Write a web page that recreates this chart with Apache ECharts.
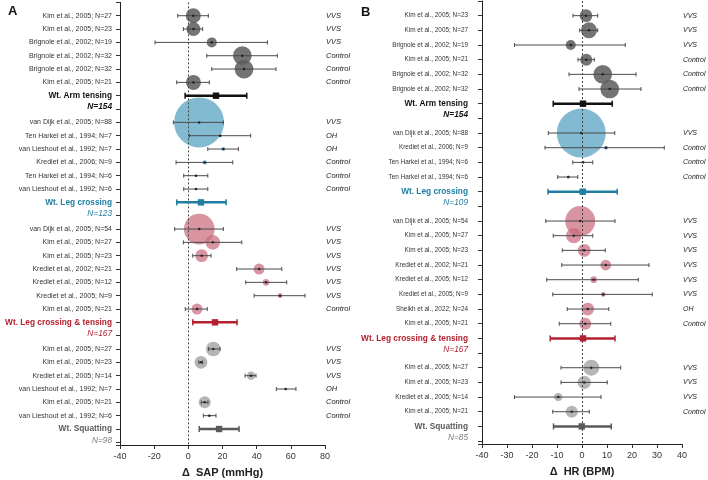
<!DOCTYPE html>
<html>
<head>
<meta charset="utf-8">
<script src="https://cdn.jsdelivr.net/npm/echarts@6/dist/echarts.min.js"></script>
<style>
  html, body { margin: 0; padding: 0; background: #fff; }
  #chart { width: 708px; height: 480px; }
</style>
</head>
<body>
<div id="chart"></div>
<script>
// intervention groups (same order in both panels)
const interventions = ['Wt. Arm tensing', 'Wt. Leg crossing', 'Wt. Leg crossing & tensing', 'Wt. Squatting'];

// ---- Panel A : delta SAP (mmHg) ----
const sapStudy = [
  'Kim et al., 2005; N=27', 'Kim et al., 2005; N=23', 'Brignole et al., 2002; N=19', 'Brignole et al., 2002; N=32', 'Brignole et al., 2002; N=32', 'Kim et al., 2005; N=21',
  'van Dijk et al., 2005; N=88', 'Ten Harkel et al., 1994; N=7', 'van Lieshout et al., 1992; N=7', 'Krediet et al., 2006; N=9', 'Ten Harkel et al., 1994; N=6', 'van Lieshout et al., 1992; N=6',
  'van Dijk et al., 2005; N=54', 'Kim et al., 2005; N=27', 'Kim et al., 2005; N=23', 'Krediet et al., 2002; N=21', 'Krediet et al., 2005; N=12', 'Krediet et al., 2005; N=9', 'Kim et al., 2005; N=21',
  'Kim et al., 2005; N=27', 'Kim et al., 2005; N=23', 'Krediet et al., 2005; N=14', 'van Lieshout et al., 1992; N=7', 'Kim et al., 2005; N=21', 'van Lieshout et al., 1992; N=6'
];
const sapGroup = [0,0,0,0,0,0, 1,1,1,1,1,1, 2,2,2,2,2,2,2, 3,3,3,3,3,3];
const sapPop = ['VVS','VVS','VVS','Control','Control','Control',
  'VVS','OH','OH','Control','Control','Control',
  'VVS','VVS','VVS','VVS','VVS','VVS','Control',
  'VVS','VVS','VVS','OH','Control','Control'];
const sapMean = [2.9, 3, 13.7, 31.6, 32.6, 3,  6.3, 18.6, 20.5, 9.6, 4.5, 4.5,  6.4, 14.3, 7.8, 41.4, 45.5, 53.7, 5.1,  14.6, 7.4, 36.7, 57, 9.6, 12.3];
const sapLow = [-6.2, -2.9, -19.5, 10.8, 13.7, -6.8,  -8.8, 0.6, 11.4, -7.2, -2.7, -2.7,  -8, -2.9, 2.6, 28.3, 33.6, 38.5, -1.8,  11.9, 6.1, 33.2, 51.5, 7.6, 8.8];
const sapHigh = [11.7, 8.4, 46.3, 52.1, 51.3, 12.3,  20.5, 36.5, 29.3, 26, 11.4, 11.4,  20.5, 31.3, 13.3, 54.7, 57.6, 68.3, 11.1,  18.6, 8.4, 39.6, 63, 11.5, 16.2];
const sapWeight = [9, 7.8, 4, 14, 14, 9,  100, 0.5, 0.6, 0.8, 0.25, 0.25,  37.7, 8.6, 6.5, 4.8, 1.8, 0.9, 4.8,  8.6, 6.5, 2.8, 0.3, 5.8, 0.25];
const sapPooled = [16.2, 7.4, 15.6, 18];
const sapPooledLow = [-1.9, -6.8, 2.6, 6.4];
const sapPooledHigh = [34.2, 22.1, 28.5, 29.7];
const sapTotalN = [154, 123, 167, 98];
const sapTicks = [-40, -20, 0, 20, 40, 60, 80];

// ---- Panel B : delta HR (BPM) ----
const hrStudy = [
  'Kim et al., 2005; N=23', 'Kim et al., 2005; N=27', 'Brignole et al., 2002; N=19', 'Kim et al., 2005; N=21', 'Brignole et al., 2002; N=32', 'Brignole et al., 2002; N=32',
  'van Dijk et al., 2005; N=88', 'Krediet et al., 2006; N=9', 'Ten Harkel et al., 1994; N=6', 'Ten Harkel et al., 1994; N=6',
  'van Dijk et al., 2005; N=54', 'Kim et al., 2005; N=27', 'Kim et al., 2005; N=23', 'Krediet et al., 2002; N=21', 'Krediet et al., 2005; N=12', 'Krediet et al., 2005; N=9', 'Sheikh et al., 2022; N=24', 'Kim et al., 2005; N=21',
  'Kim et al., 2005; N=27', 'Kim et al., 2005; N=23', 'Krediet et al., 2005; N=14', 'Kim et al., 2005; N=21'
];
const hrGroup = [0,0,0,0,0,0, 1,1,1,1, 2,2,2,2,2,2,2,2, 3,3,3,3];
const hrPop = ['VVS','VVS','VVS','Control','Control','Control',
  'VVS','Control','Control','Control',
  'VVS','VVS','VVS','VVS','VVS','VVS','OH','Control',
  'VVS','VVS','VVS','Control'];
const hrMean = [1.6, 2.8, -4.5, 1.7, 8.3, 11.1,  -0.3, 9.6, 0.4, -5.5,  -0.7, -3.3, 0.9, 9.5, 4.7, 8.5, 2.3, 1.3,  3.7, 0.9, -9.5, -4.1];
const hrLow = [-3.6, -0.9, -27, -1.6, -5.2, -1.2,  -13.5, -14.8, -3.7, -9.7,  -14.5, -11.5, -7.9, -8.1, -14.1, -11.7, -5.9, -9.1,  -8.4, -8.4, -27, -11.7];
const hrHigh = [6.3, 6.3, 17.3, 4.9, 21.6, 23.6,  13.1, 32.9, 4.3, -1.7,  13.2, 4.3, 9.3, 26.8, 22.5, 28.1, 10.7, 11.5,  15.5, 10.1, 7.6, 2.9];
const hrWeight = [6.5, 10.2, 4, 5.8, 14, 14,  96, 0.64, 0.36, 0.36,  36, 9.4, 6.5, 4.6, 1.8, 0.9, 6.5, 5.8,  10.2, 7.1, 2.6, 5.8];
const hrPooled = [0.4, 0.3, 0.4, -0.1];
const hrPooledLow = [-11.5, -13.6, -12.7, -11.4];
const hrPooledHigh = [12.1, 14.1, 13.2, 11.7];
const hrTotalN = [154, 109, 167, 85];
const hrTicks = [-40, -30, -20, -10, 0, 10, 20, 30, 40];

// colours
const sumColor = ['#111111', '#1f7ea1', '#b3202f', '#5a5a5a'];
const nColor = ['#111111', '#1f7ea1', '#b3202f', '#808080'];
const bubbleColor = ['#5c5c5c', '#74b2cc', '#c9677b', '#a8a8a8'];
const bubbleOpacity = [0.85, 0.9, 0.7, 0.85];
const FONT = 'Liberation Sans, Arial, sans-serif';

// lay out rows: studies, then pooled row, then a blank row for the N label
function buildRows(group) {
  const rowOf = [], sumRow = [];
  let r = 0;
  for (let g = 0; g < interventions.length; g++) {
    group.forEach((gg, i) => { if (gg === g) rowOf[i] = r++; });
    sumRow[g] = r;
    r += 2;
  }
  return { rowOf, sumRow, total: r };
}

function errorBar(params, api) {
  const y = api.value(2);
  const a = api.coord([api.value(0), y]);
  const b = api.coord([api.value(1), y]);
  const st = { stroke: '#4a4a4a', lineWidth: 1 };
  return { type: 'group', children: [
    { type: 'line', shape: { x1: a[0], y1: a[1], x2: b[0], y2: b[1] }, style: st },
    { type: 'line', shape: { x1: a[0], y1: a[1] - 2, x2: a[0], y2: a[1] + 2 }, style: st },
    { type: 'line', shape: { x1: b[0], y1: b[1] - 2, x2: b[0], y2: b[1] + 2 }, style: st }
  ]};
}

function pooledBar(params, api) {
  const y = api.value(2);
  const a = api.coord([api.value(0), y]);
  const b = api.coord([api.value(1), y]);
  const m = api.coord([api.value(3), y]);
  const c = sumColor[api.value(4)];
  const st = { stroke: c, lineWidth: 2.5 };
  return { type: 'group', children: [
    { type: 'line', shape: { x1: a[0], y1: a[1], x2: b[0], y2: b[1] }, style: st },
    { type: 'line', shape: { x1: a[0], y1: a[1] - 3, x2: a[0], y2: a[1] + 3 }, style: { stroke: c, lineWidth: 1.5 } },
    { type: 'line', shape: { x1: b[0], y1: b[1] - 3, x2: b[0], y2: b[1] + 3 }, style: { stroke: c, lineWidth: 1.5 } },
    { type: 'rect', shape: { x: m[0] - 3.2, y: m[1] - 3.2, width: 6.4, height: 6.4 }, style: { fill: c } }
  ]};
}

function panel(idx, p) {
  const L = buildRows(p.group);
  const left = {}, right = {};
  p.study.forEach((s, i) => { left[L.rowOf[i]] = s; right[L.rowOf[i]] = p.pop[i]; });
  L.sumRow.forEach((r, g) => {
    left[r] = '{s' + g + '|' + interventions[g] + '}';
    left[r + 1] = '{n' + g + '|N=' + p.totalN[g] + '}';
  });
  const rich = {};
  for (let g = 0; g < 4; g++) {
    rich['s' + g] = { fontWeight: 'bold', fontSize: 8.3, color: sumColor[g], fontFamily: FONT };
    rich['n' + g] = { fontStyle: 'italic', fontWeight: g === 0 ? 'bold' : 'normal', fontSize: 8.3, color: nColor[g], fontFamily: FONT, padding: [0, 0, p.nShift, 0] };
  }
  const pick = (map) => (v) => {
    const k = Math.round(v);
    return Math.abs(v - k) < 1e-6 && map[k] !== undefined ? map[k] : '';
  };
  const yBase = {
    type: 'value', gridIndex: idx, inverse: true, min: -1, max: L.total - 1 + 0.2, interval: 1,
    splitLine: { show: false }
  };
  const yAxes = [
    Object.assign({}, yBase, {
      position: 'left',
      axisLine: { show: true, onZero: false, lineStyle: { color: '#222', width: 1 } },
      axisTick: { show: true, length: 4, lineStyle: { color: '#333' } },
      axisLabel: { margin: p.labelMargin, fontSize: p.labelSize, color: '#333', fontFamily: FONT, formatter: pick(left), rich: rich }
    }),
    Object.assign({}, yBase, {
      position: 'right',
      axisLine: { show: false, onZero: false }, axisTick: { show: false },
      axisLabel: { margin: 1, fontSize: p.popSize, fontStyle: 'italic', color: '#222', fontFamily: FONT, formatter: pick(right) }
    })
  ];
  const xAxis = {
    type: 'value', gridIndex: idx, position: 'bottom', min: p.ticks[0], max: p.ticks[p.ticks.length - 1],
    interval: p.ticks[1] - p.ticks[0],
    axisLine: { show: true, onZero: false, lineStyle: { color: '#222' } },
    axisTick: { show: true, length: 4, lineStyle: { color: '#333' } },
    axisLabel: { fontSize: 9, color: '#333', margin: 7, fontFamily: FONT },
    splitLine: { show: false },
    name: p.title, nameLocation: 'middle', nameGap: 22,
    nameTextStyle: { fontSize: 11, fontWeight: 'bold', color: '#222', fontFamily: FONT }
  };
  const yi = idx * 2;
  const bubbles = p.mean.map((m, i) => ({
    value: [m, L.rowOf[i]],
    symbolSize: 5 * Math.sqrt(p.weight[i]),
    itemStyle: { color: bubbleColor[p.group[i]], opacity: bubbleOpacity[p.group[i]] }
  }));
  const series = [
    { type: 'scatter', xAxisIndex: idx, yAxisIndex: yi, data: bubbles, silent: true, z: 2 },
    {
      type: 'custom', xAxisIndex: idx, yAxisIndex: yi, renderItem: errorBar, silent: true, z: 3,
      data: p.mean.map((m, i) => [p.low[i], p.high[i], L.rowOf[i]]),
      markLine: {
        silent: true, symbol: ['none', 'none'], label: { show: false },
        lineStyle: { type: [2, 2], color: '#444', width: 1 },
        data: [{ xAxis: 0 }]
      }
    },
    {
      type: 'scatter', xAxisIndex: idx, yAxisIndex: yi, symbolSize: 2.5, silent: true, z: 4,
      itemStyle: { color: '#111' },
      data: p.mean.map((m, i) => [m, L.rowOf[i]])
    },
    {
      type: 'custom', xAxisIndex: idx, yAxisIndex: yi, renderItem: pooledBar, silent: true, z: 5,
      data: p.pooled.map((m, g) => [p.pooledLow[g], p.pooledHigh[g], L.sumRow[g], m, g])
    }
  ];
  return { yAxes, xAxis, series };
}

const A = panel(0, {
  study: sapStudy, group: sapGroup, pop: sapPop, mean: sapMean, low: sapLow, high: sapHigh, weight: sapWeight,
  pooled: sapPooled, pooledLow: sapPooledLow, pooledHigh: sapPooledHigh, totalN: sapTotalN, ticks: sapTicks,
  title: 'Δ  SAP (mmHg)', labelSize: 7, labelMargin: 8, popSize: 7.5, nShift: 4
});
const B = panel(1, {
  study: hrStudy, group: hrGroup, pop: hrPop, mean: hrMean, low: hrLow, high: hrHigh, weight: hrWeight,
  pooled: hrPooled, pooledLow: hrPooledLow, pooledHigh: hrPooledHigh, totalN: hrTotalN, ticks: hrTicks,
  title: 'Δ  HR (BPM)', labelSize: 6.4, labelMargin: 14, popSize: 7, nShift: 7
});

const chart = echarts.init(document.getElementById('chart'), null, { renderer: 'canvas' });
chart.setOption({
  animation: false,
  backgroundColor: '#fff',
  textStyle: { fontFamily: FONT },
  title: [
    { text: 'A', left: 3, top: 0, textStyle: { fontSize: 13, fontWeight: 'bold', color: '#111', fontFamily: FONT } },
    { text: 'B', left: 356, top: 1, textStyle: { fontSize: 13, fontWeight: 'bold', color: '#111', fontFamily: FONT } }
  ],
  grid: [
    { left: 120, right: 383, top: 2.4, bottom: 35, outerBoundsMode: 'none' },
    { left: 482, right: 26, top: 1, bottom: 36, outerBoundsMode: 'none' }
  ],
  xAxis: [A.xAxis, B.xAxis],
  yAxis: A.yAxes.concat(B.yAxes),
  series: A.series.concat(B.series)
});
</script>
</body>
</html>
